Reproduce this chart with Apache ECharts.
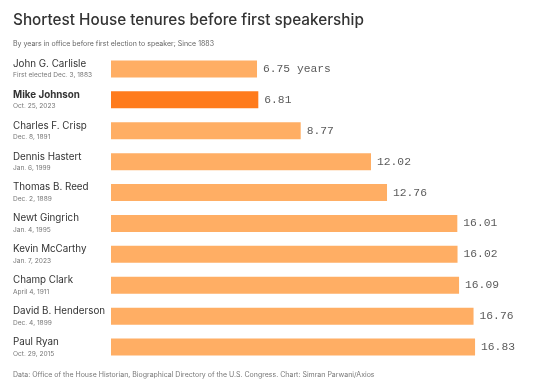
<!DOCTYPE html>
<html>
<head>
<meta charset="utf-8">
<script src="https://cdn.jsdelivr.net/npm/echarts@6/dist/echarts.min.js"></script>
<style>html,body{margin:0;padding:0;background:#fff}#c{width:540px;height:386px}</style>
</head>
<body>
<div id="c"></div>
<script>
const names = ["John G. Carlisle","Mike Johnson","Charles F. Crisp","Dennis Hastert","Thomas B. Reed","Newt Gingrich","Kevin McCarthy","Champ Clark","David B. Henderson","Paul Ryan"];
const dates = ["First elected Dec. 3, 1883","Oct. 25, 2023","Dec. 8, 1891","Jan. 6, 1999","Dec. 2, 1889","Jan. 4, 1995","Jan. 7, 2023","April 4, 1911","Dec. 4, 1899","Oct. 29, 2015"];
const values = [6.75, 6.81, 8.77, 12.02, 12.76, 16.01, 16.02, 16.09, 16.76, 16.83];
const highlight = "Mike Johnson";

const chart = echarts.init(document.getElementById('c'), null, {renderer:'canvas'});
const font = 'Inter, "Noto Sans", sans-serif';
chart.setOption({
  animation:false,
  backgroundColor:'#fff',
  title:[
    {text:'Shortest House tenures before first speakership', left:13, top:13, padding:0,
     textStyle:{fontFamily:font, fontSize:15.3, fontWeight:500, color:'#333'}},
    {text:'By years in office before first election to speaker; Since 1883', left:13, top:40.5, padding:0,
     textStyle:{fontFamily:font, fontSize:7, fontWeight:400, color:'#666'}},
    {text:'Data: Office of the House Historian, Biographical Directory of the U.S. Congress. Chart: Simran Parwani/Axios', left:13, top:371.5, padding:0,
     textStyle:{fontFamily:font, fontSize:7, fontWeight:400, color:'#777'}}
  ],
  grid:{left:111, top:53.5, width:411, height:309},
  xAxis:{type:'value', min:0, max:19, show:false},
  yAxis:{type:'category', data:names, inverse:true,
    axisLine:{show:false}, axisTick:{show:false},
    axisLabel:{align:'left', margin:98,
      formatter:(v,i)=>`{${v===highlight?'nb':'n'}|${v}}\n{d|${dates[i]}}`,
      rich:{
        n:{fontFamily:font, fontSize:9.8, color:'#333', lineHeight:13},
        nb:{fontFamily:font, fontSize:9.8, fontWeight:'bold', color:'#333', lineHeight:13},
        d:{fontFamily:font, fontSize:6.6, color:'#777', lineHeight:10}
      }}
  },
  series:[{
    type:'bar', barWidth:17,
    data:values.map((v,i)=>({value:v, itemStyle:{color:names[i]===highlight?'#FF7B1C':'#FFAE64'}})),
    label:{show:true, position:'right', distance:6,
      fontFamily:'"Liberation Mono", "DejaVu Sans Mono", monospace', fontSize:11.3, color:'#5a5a5a',
      formatter:p=>p.dataIndex===0? p.value.toFixed(2)+' years' : p.value.toFixed(2)}
  }]
});
</script>
</body>
</html>
